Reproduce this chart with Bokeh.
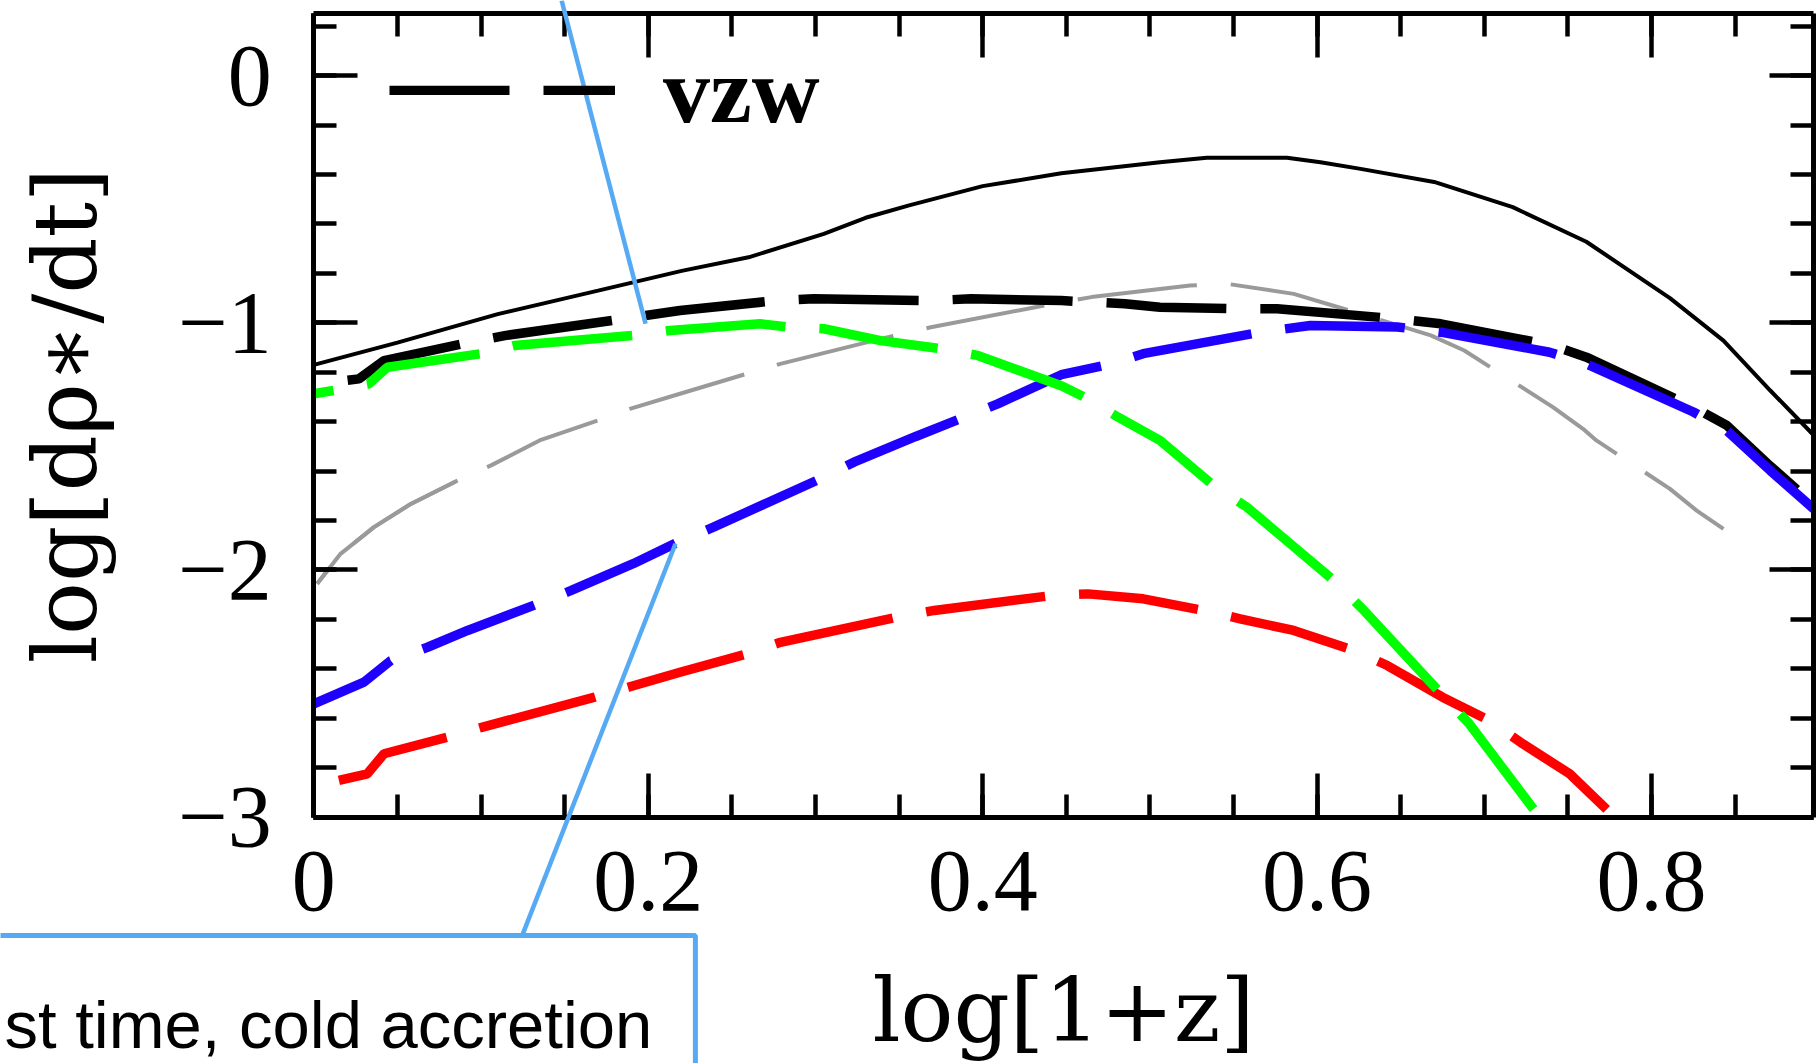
from bokeh.plotting import figure
from bokeh.models import (Range1d, LinearAxis, SingleIntervalTicker, CustomJSTickFormatter,
                          Legend, LegendItem, Arrow, BoxAnnotation, Label)
from bokeh.embed import file_html
from bokeh.resources import INLINE

# ---- data: log[1+z] vs log[d rho_* / dt] ----
total_x = [0.0, 0.05, 0.11, 0.17, 0.22, 0.26, 0.305, 0.33, 0.356, 0.40, 0.447, 0.506, 0.534,
           0.582, 0.602, 0.626, 0.670, 0.717, 0.761, 0.811, 0.843, 0.871, 0.897]
total_y = [-1.17, -1.08, -0.965, -0.87, -0.79, -0.735, -0.64, -0.575, -0.525, -0.447, -0.395,
           -0.35, -0.332, -0.332, -0.35, -0.377, -0.43, -0.532, -0.672, -0.90, -1.072, -1.274,
           -1.455]

vzw_x = [0.0, 0.006, 0.027, 0.042, 0.094, 0.115, 0.185, 0.219, 0.277, 0.299, 0.369, 0.393, 0.447,
         0.485, 0.506, 0.556, 0.576, 0.648, 0.674, 0.741, 0.761, 0.827, 0.845, 0.871, 0.897]
vzw_y = [-1.245, -1.245, -1.227, -1.153, -1.078, -1.051, -0.984, -0.950, -0.910, -0.903, -0.910,
         -0.903, -0.910, -0.923, -0.937, -0.943, -0.943, -0.984, -1.004, -1.092, -1.139, -1.348,
         -1.415, -1.58, -1.735]

cold_x = [0.0, 0.012, 0.033, 0.044, 0.10, 0.12, 0.191, 0.213, 0.267, 0.283, 0.305, 0.339, 0.375,
          0.397, 0.447, 0.463, 0.481, 0.506, 0.538, 0.558, 0.610, 0.628, 0.674, 0.691, 0.733]
cold_y = [-1.287, -1.274, -1.247, -1.180, -1.125, -1.092, -1.051, -1.031, -1.004, -1.017, -1.024,
          -1.072, -1.105, -1.132, -1.255, -1.308, -1.382, -1.476, -1.658, -1.746, -2.043, -2.164,
          -2.50, -2.623, -3.0]

hot_x = [0.0, 0.030, 0.046, 0.068, 0.092, 0.134, 0.154, 0.191, 0.217, 0.239, 0.303, 0.323, 0.36,
         0.409, 0.447, 0.477, 0.496, 0.566, 0.596, 0.648, 0.674, 0.739, 0.761, 0.825, 0.845, 0.871,
         0.897]
hot_y = [-2.542, -2.454, -2.367, -2.313, -2.245, -2.137, -2.083, -1.975, -1.89, -1.827, -1.631,
         -1.564, -1.46, -1.328, -1.21, -1.166, -1.125, -1.038, -1.011, -1.017, -1.038, -1.119,
         -1.166, -1.361, -1.436, -1.598, -1.753]

red_x = [0.015, 0.032, 0.042, 0.080, 0.101, 0.168, 0.188, 0.219, 0.259, 0.279, 0.349, 0.371, 0.441,
         0.463, 0.496, 0.532, 0.554, 0.586, 0.622, 0.642, 0.675, 0.703, 0.723, 0.751, 0.777]
red_y = [-2.852, -2.825, -2.744, -2.677, -2.636, -2.515, -2.475, -2.414, -2.340, -2.293, -2.191,
         -2.164, -2.104, -2.097, -2.117, -2.164, -2.198, -2.245, -2.326, -2.387, -2.515, -2.609,
         -2.704, -2.825, -2.994]

gray_x = [0.002, 0.016, 0.036, 0.058, 0.086, 0.106, 0.135, 0.170, 0.189, 0.219, 0.259, 0.279, 0.339,
          0.369, 0.437, 0.465, 0.524, 0.546, 0.586, 0.626, 0.668, 0.688, 0.741, 0.759, 0.767, 0.811,
          0.827, 0.843]
gray_y = [-2.056, -1.935, -1.827, -1.733, -1.638, -1.577, -1.476, -1.395, -1.348, -1.287, -1.206,
          -1.166, -1.065, -1.018, -0.930, -0.896, -0.849, -0.842, -0.883, -0.964, -1.051, -1.112,
          -1.341, -1.429, -1.476, -1.672, -1.760, -1.834]

x_tick_labels = {0: "0"}
y_tick_labels = {0: "0", -1: "\u22121", -2: "\u22122", -3: "\u22123"}

# plot box limits and the extent of the whole page in the same units
X0, X1 = 0.0, 0.897
Y0, Y1 = -3.0, 0.252
PAGE_X = (-0.18736, 0.89864)
PAGE_Y = (-3.9975, 0.3043)

# ---- styling ----
DASH = "120 34"
THICK = 9.5
CALLOUT = "#56aaf4"
SERIF = "Liberation Serif"
LABEL_FONT = "DejaVu Serif"

p = figure(width=1816, height=1063, x_range=Range1d(*PAGE_X), y_range=Range1d(*PAGE_Y),
           output_backend="svg", toolbar_location=None, x_axis_type=None, y_axis_type=None,
           title=None, min_border=0)
p.grid.visible = False
p.outline_line_color = None
p.background_fill_color = "white"
p.border_fill_color = "white"

blank = CustomJSTickFormatter(code="return ''")


def style_axis(ax, labelled):
    ax.axis_line_width = 5
    ax.axis_line_color = "black"
    ax.major_tick_line_width = 4.5
    ax.minor_tick_line_width = 4.5
    ax.major_tick_in = 44
    ax.major_tick_out = 0
    ax.minor_tick_in = 23
    ax.minor_tick_out = 0
    if labelled:
        ax.major_label_text_font = SERIF
        ax.major_label_text_font_size = "88px"
        ax.major_label_text_color = "black"
        ax.axis_label_text_font = LABEL_FONT
        ax.axis_label_text_font_size = "88px"
        ax.axis_label_text_font_style = "normal"
        ax.axis_label_text_color = "black"
    else:
        ax.formatter = blank
        ax.major_label_standoff = 0


def x_ticker():
    return SingleIntervalTicker(interval=0.2, num_minor_ticks=4)


def y_ticker():
    return SingleIntervalTicker(interval=1, num_minor_ticks=5)


xb = LinearAxis(ticker=x_ticker(), axis_label="log[1+z]", major_label_overrides=x_tick_labels,
                fixed_location=Y0, bounds=(X0, X1))
style_axis(xb, True)
xb.major_label_standoff = 35
xb.axis_label_standoff = 45
p.add_layout(xb, "below")

yl = LinearAxis(ticker=y_ticker(), axis_label="log[d\u03c1\u2217/dt]",
                major_label_overrides=y_tick_labels, fixed_location=X0, bounds=(Y0, Y1))
style_axis(yl, True)
yl.major_label_standoff = 42
yl.axis_label_standoff = 58
p.add_layout(yl, "left")

xt = LinearAxis(ticker=x_ticker(), fixed_location=Y1, bounds=(X0, X1))
style_axis(xt, False)
p.add_layout(xt, "above")

yr = LinearAxis(ticker=y_ticker(), fixed_location=X1, bounds=(Y0, Y1))
style_axis(yr, False)
p.add_layout(yr, "right")

# ---- curves ----
p.line(gray_x, gray_y, line_color="#9a9a9a", line_width=4, line_dash=DASH, line_dash_offset=99)
lead = [i for i, x in enumerate(gray_x) if x <= 0.09]
p.line([gray_x[i] for i in lead], [gray_y[i] for i in lead], line_color="#9a9a9a", line_width=4)
p.line(total_x, total_y, line_color="black", line_width=4)
r_vzw = p.line(vzw_x, vzw_y, line_color="black", line_width=THICK, line_dash=DASH,
               line_dash_offset=120)
p.line(red_x, red_y, line_color="#ff0000", line_width=THICK, line_dash=DASH, line_dash_offset=0)
p.line(hot_x, hot_y, line_color="#1f00ff", line_width=THICK, line_dash=DASH, line_dash_offset=31)
p.line(cold_x, cold_y, line_color="#00ff00", line_width=THICK, line_dash=DASH, line_dash_offset=100)

legend = Legend(items=[LegendItem(label="vzw", renderers=[r_vzw])], location=(355, 919),
                margin=0, padding=0, glyph_width=260, glyph_height=10, label_standoff=48,
                label_text_font=SERIF, label_text_font_style="bold", label_text_font_size="94px",
                label_text_color="black", background_fill_alpha=0, border_line_color=None)
p.add_layout(legend)

# ---- callout ----
p.add_layout(Arrow(end=None, x_start=0.1482, y_start=PAGE_Y[1], x_end=0.1984, y_end=-1.004,
                   line_color=CALLOUT, line_width=4.5))
p.add_layout(Arrow(end=None, x_start=0.2163, y_start=-1.894, x_end=0.1246, y_end=-3.48,
                   line_color=CALLOUT, line_width=4.5))
p.add_layout(BoxAnnotation(left=-0.3, right=0.2282, top=-3.48, bottom=-4.4,
                           fill_color="white", fill_alpha=1.0,
                           line_color=CALLOUT, line_width=5, line_alpha=1.0))
p.add_layout(Label(x=-0.1850, y=-3.840, text="st time, cold accretion",
                   text_font="Liberation Sans", text_font_size="67px", text_color="black",
                   text_baseline="alphabetic", text_align="left"))

open("out.html", "w").write(file_html(p, INLINE))
